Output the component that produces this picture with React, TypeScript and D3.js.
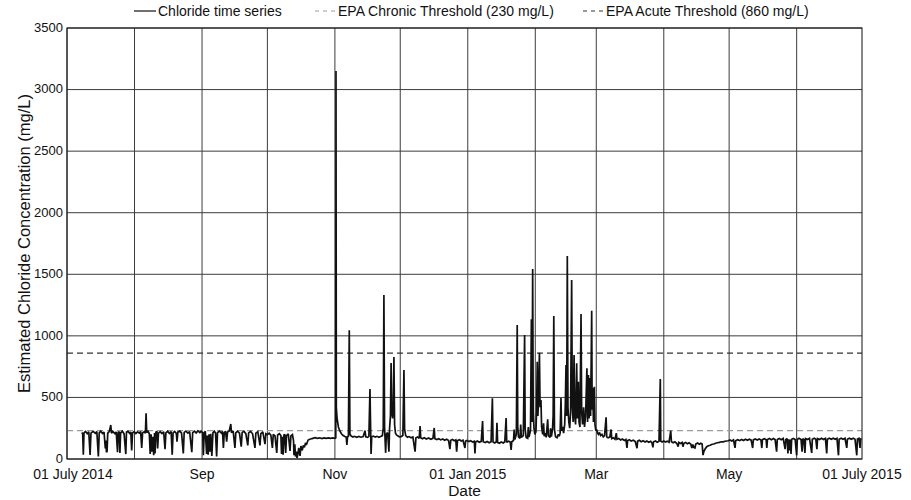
import React from "react";
import * as d3 from "d3";

// ---------------- data ----------------
const seriesStart = "2014-07-01";
const seriesEnd = "2015-07-01";
const yTickValues = [0, 500, 1000, 1500, 2000, 2500, 3000, 3500];
const xTickDates = ["2014-07-01", "2014-09-01", "2014-11-01", "2015-01-01", "2015-03-01", "2015-05-01", "2015-07-01"];
const xTickText = ["01 July 2014", "Sep", "Nov", "01 Jan 2015", "Mar", "May", "01 July 2015"];
const chronicThreshold = 230;
const acuteThreshold = 860;
const legendLabels = ["Chloride time series", "EPA Chronic Threshold (230 mg/L)", "EPA Acute Threshold (860 mg/L)"];
const xAxisTitle = "Date";
const yAxisTitle = "Estimated Chloride Concentration (mg/L)";

// [days since 01 July 2014, chloride mg/L]
const julyReadings: [number, number][] = [
  [6.8,215],[7.2,205],[7.5,35],[7.8,212],[8.5,224],[9.3,206],[10,220],[10.6,32],[11,210],[12,225],[13,208],[13.7,222],[14.4,20],[14.8,212],[15.5,226],[16.3,207],[17,219],[17.6,85],[17.9,150],[18.1,55],[18.4,62],[18.7,210],[19.4,222],[20.1,276],[20.4,210],[21,224],[22,206],[22.6,220],[23.2,55],[23.5,215],[24,222],[24.3,48],[24.6,210],[25.4,226],[26.2,205],[27,40],[27.3,218],[28,224],[28.8,208],[29.3,218],[29.7,70],[30.1,212],[30.8,222],
];
const augustReadings: [number, number][] = [
  [31.6,206],[32.4,220],[33.2,210],[33.8,224],[34.3,90],[34.7,212],[35.5,222],[36,210],[36.3,371],[36.6,215],[37.2,224],[37.8,205],[38.2,40],[38.6,200],[39,60],[39.4,180],[39.8,30],[40.2,210],[40.4,45],[40.8,218],[41.3,225],[41.6,85],[42,210],[42.8,222],[43.6,206],[44.4,220],[45,80],[45.4,212],[46.2,225],[47,208],[47.8,222],[48.3,35],[48.7,212],[49.4,224],[50.2,208],[50.5,140],[50.9,218],[51.8,226],[52.6,210],[53.4,45],[53.8,216],[54.6,226],[55.5,210],[56.3,222],[57.3,55],[57.7,214],[58.5,226],[59.3,212],[60.1,228],[61,214],[61.6,226],
];
const septemberReadings: [number, number][] = [
  [62.3,212],[62.6,30],[63,215],[63.5,225],[64.1,40],[64.4,190],[64.8,35],[65.2,200],[65.6,60],[66,205],[66.5,25],[67,212],[67.6,226],[68.2,210],[68.7,20],[69.1,214],[70,226],[70.9,210],[71.4,224],[71.8,90],[72.2,212],[72.8,226],[73.3,140],[73.7,218],[74.5,228],[75.2,284],[75.5,214],[76.3,226],[77.1,90],[77.5,212],[78.3,226],[79.2,210],[80,100],[80.4,214],[81.2,226],[82.1,206],[83,110],[83.4,212],[84.3,224],[85.2,205],[86.3,90],[86.7,210],[87.6,222],[88.6,110],[89,206],[89.9,220],[90.9,120],[91.3,205],
];
const octoberReadings: [number, number][] = [
  [92,198],[92.8,210],[93.6,194],[94.3,90],[94.7,200],[95.5,188],[96.3,50],[96.7,195],[97.5,206],[98.2,190],[98.5,40],[98.9,180],[99.2,35],[99.6,195],[100,200],[100.4,50],[100.8,190],[101.6,205],[102.4,65],[102.8,188],[103.5,198],[104,150],[104.2,30],[104.6,120],[104.9,20],[105.3,60],[105.6,8],[106,40],[106.4,90],[107,25],[107.4,105],[108,70],[108.5,110],[109,95],[109.5,130],[110,120],[110.7,154],[111.5,160],[112.5,166],[113.9,173],[115,168],[116,172],[117,166],[118,171],[119,167],[120,172],[121,168],[122,171],[123,168],[123.4,172],
];
const novemberReadings: [number, number][] = [
  [123.5,3150],[123.65,420],[124,330],[124.6,260],[125.2,230],[126,205],[126.8,190],[127.6,182],[128.2,178],[128.5,114],[128.8,180],[129.2,185],[129.6,1045],[129.9,200],[130.5,186],[131.3,178],[132,184],[133,176],[134,183],[135,177],[136,182],[136.8,230],[137.2,180],[138,176],[138.6,184],[139.1,568],[139.35,300],[139.6,40],[139.9,180],[140.6,186],[141.5,178],[142.3,184],[143.2,177],[144,183],[144.8,190],[145.2,250],[145.5,1332],[145.8,260],[146.3,50],[146.6,200],[147.2,215],[147.8,60],[148.1,250],[148.5,350],[148.8,780],[149.1,380],[149.5,330],[149.8,420],[150.1,828],[150.4,280],[150.8,210],[151.3,195],[152,186],[152.6,180],
];
const decemberReadings: [number, number][] = [
  [153.4,182],[154.2,190],[154.7,722],[155,240],[155.5,190],[156.3,176],[157,182],[158,172],[158.8,178],[159.8,60],[160.2,172],[161,178],[161.7,168],[162.1,268],[162.4,172],[163.2,165],[164,172],[165,162],[166,170],[167,160],[168,168],[168.6,252],[168.9,165],[169.8,158],[170.7,165],[171.6,155],[172.5,162],[173.4,152],[174.3,160],[175.2,150],[175.8,80],[176.2,152],[177,158],[177.8,148],[178.5,155],[178.9,60],[179.3,150],[180.2,156],[181,146],[181.8,152],[182.7,90],[183,145],[183.6,150],
];
const januaryReadings: [number, number][] = [
  [184.5,142],[185.3,148],[186.2,138],[187,144],[187.3,46],[187.6,138],[188.4,146],[189.3,136],[190.2,143],[190.8,309],[191.1,140],[192,134],[192.9,142],[193.8,132],[194.7,140],[195.3,493],[195.6,138],[196.4,130],[197.1,140],[197.4,295],[197.7,135],[198.5,128],[199.4,138],[200.3,130],[201,140],[201.6,333],[201.9,135],[202.8,145],[203.5,138],[203.9,73],[204.2,140],[205,150],[205.3,240],[205.6,158],[206.3,200],[206.7,1088],[206.95,260],[207.3,180],[208,168],[208.3,280],[208.6,175],[209.5,190],[210.1,1007],[210.35,240],[210.8,175],[211.5,168],[211.8,260],[212.1,178],[212.8,230],[213.2,1134],[213.5,300],[213.8,1543],[214.05,380],[214.4,250],[214.8,200],
];
const februaryReadings: [number, number][] = [
  [215.3,220],[215.6,400],[215.9,790],[216.2,350],[216.5,500],[216.9,863],[217.2,420],[217.6,479],[217.9,260],[218.4,200],[218.8,290],[219.1,185],[219.6,210],[220,175],[220.7,322],[221,190],[221.8,175],[222,250],[222.4,182],[222.9,240],[223.2,350],[223.5,1161],[223.8,240],[224.3,180],[225,172],[225.6,200],[226,185],[226.4,210],[226.8,495],[227.1,230],[227.6,260],[228,210],[228.5,280],[228.8,450],[229.1,763],[229.4,350],[229.7,1649],[230,420],[230.4,300],[230.8,250],[231.2,380],[231.7,1453],[232,420],[232.4,300],[232.8,844],[233.1,350],[233.5,280],[234,777],[234.3,330],[234.8,628],[235.1,300],[235.5,260],[236,1177],[236.3,380],[236.7,280],[237.2,420],[237.6,260],[238.1,350],[238.7,736],[239,300],[239.4,682],[239.7,330],[240.1,658],[240.4,350],[240.9,1204],[241.1,400],[241.4,577],[241.7,300],[242.1,587],[242.4,280],[242.8,230],
];
const marchReadings: [number, number][] = [
  [243.2,240],[243.6,210],[244,200],[244.5,215],[245,190],[245.6,200],[246.2,180],[246.8,190],[247.5,338],[247.8,180],[248.4,172],[249.2,178],[249.8,240],[250.1,165],[250.8,172],[251.6,160],[252.2,210],[252.5,160],[253.3,166],[254.2,155],[255,162],[255.9,150],[256.6,158],[257.1,90],[257.4,150],[258.2,156],[259,145],[260,152],[260.9,142],[261.7,88],[262,145],[262.8,152],[263.6,140],[264.5,148],[265.4,138],[266.2,146],[267.1,136],[268,144],[268.6,130],[269,95],[269.3,140],[270.2,146],[271,136],[271.8,144],[272.4,650],[272.6,145],[273.2,138],
];
const aprilReadings: [number, number][] = [
  [274,146],[274.8,138],[275.6,145],[276.4,136],[277.2,230],[277.5,140],[278.3,132],[279.1,140],[279.9,128],[280.6,100],[280.9,135],[281.7,126],[282.4,134],[282.8,100],[283.2,128],[284,135],[284.8,124],[285.6,132],[286.4,120],[286.9,90],[287.3,118],[287.8,95],[288.3,90],[288.7,122],[289.5,130],[290.3,120],[291,128],[291.6,122],[292,32],[292.4,60],[292.9,80],[293.7,100],[294.5,108],[295.3,112],[296.2,120],[297,122],[297.8,128],[298.6,132],[299.5,135],[300.4,140],[301.3,139],[302.1,144],[302.9,146],[303.6,148],
];
const mayReadings: [number, number][] = [
  [304.4,154],[305.2,146],[306,155],[306.7,90],[307,148],[307.9,156],[308.8,149],[309.7,158],[310.6,150],[311.5,160],[312.4,152],[313.3,161],[314.1,153],[314.8,89],[315.1,155],[316,162],[316.9,154],[317.8,163],[318.6,155],[319,89],[319.3,158],[320.2,165],[321,156],[321.3,89],[321.6,158],[322.5,166],[323.4,157],[324.3,166],[325.1,158],[325.8,60],[326.1,158],[327,166],[327.9,157],[328.8,167],[329.7,80],[330,158],[330.6,166],[331,45],[331.3,160],[331.8,70],[332.1,158],[332.4,40],[332.7,160],[333.5,167],[334.3,158],
];
const juneReadings: [number, number][] = [
  [335,30],[335.3,160],[336.1,168],[337,159],[337.5,60],[337.8,165],[338.3,158],[338.8,50],[339.1,166],[340,158],[340.9,168],[341.9,50],[342.2,160],[343.1,168],[343.8,160],[344.3,80],[344.6,166],[345.5,158],[346.4,168],[347.3,159],[348.2,168],[348.8,45],[349.1,160],[350,168],[350.9,160],[351.8,169],[352.7,160],[353.5,168],[354.2,30],[354.5,160],[355.4,169],[356.3,160],[357.2,168],[358,90],[358.3,160],[359.2,169],[360.1,160],[361,168],[361.8,160],[362.6,30],[362.9,162],[363.6,168],[364.1,90],[364.4,162],[364.8,166],
];

// ---------------- chart ----------------
const W = 911;
const H = 500;
const FONT = "Arial, 'Liberation Sans', Helvetica, sans-serif";

const parseDay = d3.utcParse("%Y-%m-%d");

export default function App() {
  const readings = [
    ...julyReadings, ...augustReadings, ...septemberReadings, ...octoberReadings,
    ...novemberReadings, ...decemberReadings, ...januaryReadings, ...februaryReadings,
    ...marchReadings, ...aprilReadings, ...mayReadings, ...juneReadings,
  ];
  const t0 = parseDay(seriesStart) as Date;
  const t1 = parseDay(seriesEnd) as Date;
  const toDate = (d: number) => new Date(t0.getTime() + d * 86400000);

  const plot = { left: 67, right: 862, top: 28, bottom: 459 };
  const x = d3.scaleUtc().domain([t0, t1]).range([plot.left, plot.right]);
  const y = d3.scaleLinear().domain([0, 3500]).range([plot.bottom, plot.top]);

  const line = d3
    .line<[number, number]>()
    .x((d) => x(toDate(d[0])))
    .y((d) => y(d[1]));

  const monthLines = d3.utcMonth.range(t0, t1);

  const gridColor = "#3c3c3c";

  return (
    <svg
      width={W}
      height={H}
      viewBox={`0 0 ${W} ${H}`}
      style={{ position: "absolute", left: 0, top: 0, display: "block", background: "#fff" }}
      fontFamily={FONT}
    >
      <rect x={0} y={0} width={W} height={H} fill="#fff" />
      {/* grid */}
      {monthLines.map((m, i) => (
        <line key={"vx" + i} x1={x(m)} x2={x(m)} y1={plot.top} y2={plot.bottom} stroke={gridColor} strokeWidth={1} />
      ))}
      {yTickValues.map((v) => (
        <line key={"hy" + v} x1={plot.left} x2={plot.right} y1={y(v)} y2={y(v)} stroke={gridColor} strokeWidth={1} />
      ))}
      {/* thresholds */}
      <line x1={plot.left} x2={plot.right} y1={y(chronicThreshold)} y2={y(chronicThreshold)} stroke="#9a9a9a" strokeWidth={1.2} strokeDasharray="6,4" />
      <line x1={plot.left} x2={plot.right} y1={y(acuteThreshold)} y2={y(acuteThreshold)} stroke="#333" strokeWidth={1.2} strokeDasharray="6,4" />
      {/* series */}
      <path d={line(readings) || ""} fill="none" stroke="#111" strokeWidth={1.7} strokeLinejoin="miter" strokeMiterlimit={2} />
      {/* frame */}
      <rect x={plot.left} y={plot.top} width={plot.right - plot.left} height={plot.bottom - plot.top} fill="none" stroke="#111" strokeWidth={1} />
      {/* y ticks */}
      {yTickValues.map((v) => (
        <text key={"yt" + v} x={plot.left - 4} y={y(v)} dy="0.3em" textAnchor="end" fontSize={13} fill="#111">
          {v}
        </text>
      ))}
      {/* x ticks */}
      {xTickDates.map((ds, i) => {
        const d = parseDay(ds) as Date;
        return (
          <text key={"xt" + i} x={x(d) + (i === 0 ? 6 : 0)} y={479} textAnchor="middle" fontSize={14} fill="#111">
            {xTickText[i]}
          </text>
        );
      })}
      {/* axis titles */}
      <text x={(plot.left + plot.right) / 2} y={496} textAnchor="middle" fontSize={15.5} fill="#111">
        {xAxisTitle}
      </text>
      <text
        transform={`translate(30, ${(plot.top + plot.bottom) / 2}) rotate(-90)`}
        textAnchor="middle"
        fontSize={16.5}
        fill="#111"
      >
        {yAxisTitle}
      </text>
      {/* legend */}
      <g fontSize={14} fill="#111">
        <line x1={134} x2={156} y1={11} y2={11} stroke="#111" strokeWidth={1.2} />
        <text x={158} y={16}>{legendLabels[0]}</text>
        <line x1={315} x2={337} y1={11} y2={11} stroke="#9a9a9a" strokeWidth={1.2} strokeDasharray="4,4" />
        <text x={338} y={16}>{legendLabels[1]}</text>
        <line x1={583} x2={605} y1={11} y2={11} stroke="#333" strokeWidth={1.2} strokeDasharray="4,4" />
        <text x={606} y={16}>{legendLabels[2]}</text>
      </g>
    </svg>
  );
}
